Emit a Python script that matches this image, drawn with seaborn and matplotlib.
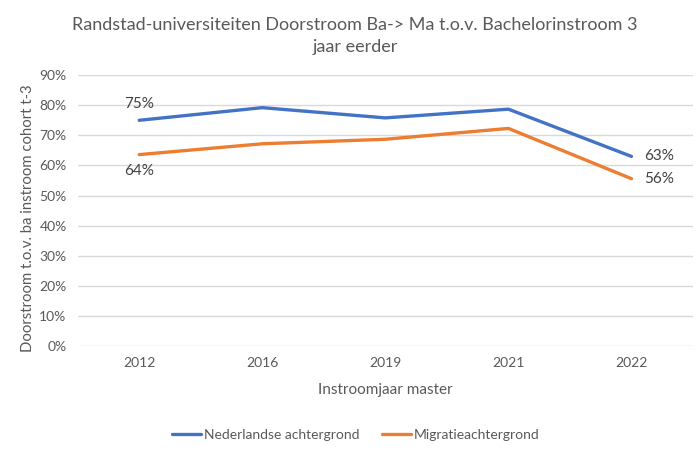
import matplotlib
matplotlib.use("Agg")
import matplotlib.pyplot as plt
import seaborn as sns
import pandas as pd
from matplotlib.ticker import PercentFormatter

years = ["2012", "2016", "2019", "2021", "2022"]
nederlands = [0.75, 0.792, 0.758, 0.787, 0.63]
migratie = [0.636, 0.672, 0.687, 0.723, 0.556]
series_names = ["Nederlandse achtergrond", "Migratieachtergrond"]

df = pd.DataFrame({
    "jaar": years * 2,
    "waarde": nederlands + migratie,
    "groep": [series_names[0]] * len(years) + [series_names[1]] * len(years),
})

sns.set_style("white")
plt.rcParams["font.family"] = ["Lato", "DejaVu Sans"]
txt = "#595959"

fig = plt.figure(figsize=(7, 4.5), dpi=100)
ax = fig.add_axes([0.111, 0.231, 0.879, 0.602])
sns.lineplot(data=df, x="jaar", y="waarde", hue="groep", ax=ax,
             palette=["#4472C4", "#ED7D31"], linewidth=2.4, sort=False)

ax.set_ylim(0, 0.9)
ax.set_xlim(-0.5, len(years) - 0.5)
ax.set_yticks([i / 10 for i in range(10)])
ax.yaxis.set_major_formatter(PercentFormatter(1.0, decimals=0))
ax.grid(axis="y", color="#D9D9D9", linewidth=1)
ax.set_axisbelow(True)
for s in ax.spines.values():
    s.set_visible(False)
ax.tick_params(axis="both", length=0, labelsize=10, labelcolor=txt, pad=8)

ax.set_xlabel("Instroomjaar master", fontsize=11, color=txt, labelpad=10)
ax.set_ylabel("Doorstroom t.o.v. ba instroom cohort t-3", fontsize=10.7, color=txt)
ax.yaxis.set_label_coords(-0.07, 0.472)

# data labels
ax.text(0, nederlands[0] + 0.03, f"{nederlands[0]:.0%}", ha="center", va="bottom", fontsize=11, color="#404040")
ax.text(0, migratie[0] - 0.03, f"{migratie[0]:.0%}", ha="center", va="top", fontsize=11, color="#404040")
ax.text(4.1, nederlands[-1], f"{nederlands[-1]:.0%}", ha="left", va="center", fontsize=11, color="#404040")
ax.text(4.1, migratie[-1], f"{migratie[-1]:.0%}", ha="left", va="center", fontsize=11, color="#404040")

fig.suptitle("Randstad-universiteiten Doorstroom Ba-> Ma t.o.v. Bachelorinstroom 3\njaar eerder",
             x=0.507, y=0.963, fontsize=13, color=txt, linespacing=1.5)

ax.legend(loc="upper center", bbox_to_anchor=(0.452, -0.26), ncol=2, frameon=False,
          fontsize=10, labelcolor=txt, handlelength=2.1, handletextpad=0.2, columnspacing=1.6)

fig.savefig("out.png", dpi=100)
